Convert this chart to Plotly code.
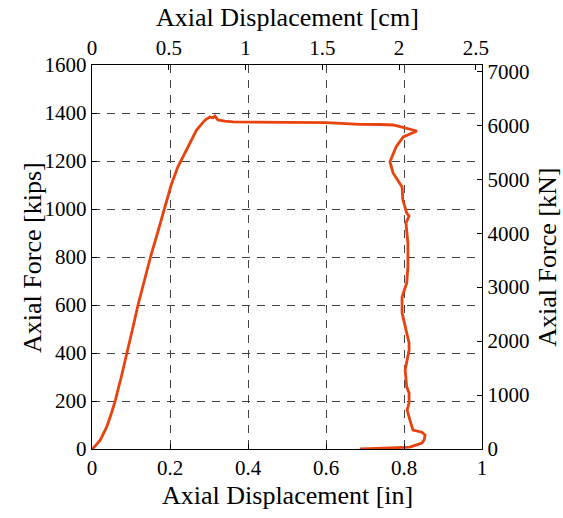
import plotly.graph_objects as go

# Axial displacement [in] and axial force [kips]
disp_in = [0.000, 0.007, 0.021, 0.038, 0.050, 0.060, 0.075, 0.090, 0.104, 0.118, 0.134,
           0.150, 0.168, 0.186, 0.203, 0.220, 0.243, 0.268, 0.290, 0.302, 0.310, 0.315,
           0.323, 0.340, 0.362, 0.400, 0.500, 0.600, 0.687, 0.740, 0.772, 0.795, 0.812,
           0.833, 0.798, 0.780, 0.769, 0.764, 0.772, 0.795, 0.797, 0.807, 0.813, 0.805,
           0.810, 0.810, 0.807, 0.795, 0.795, 0.807, 0.813, 0.813, 0.803, 0.807, 0.813,
           0.813, 0.808, 0.815, 0.823, 0.846, 0.854, 0.852, 0.846, 0.815, 0.772, 0.730,
           0.687]
force_kips = [0, 10, 37, 93, 150, 204, 300, 400, 500, 600, 700,
              800, 900, 1000, 1100, 1175, 1246, 1329, 1371, 1383, 1380, 1387,
              1371, 1366, 1363, 1362, 1361, 1360, 1353, 1352, 1350, 1341, 1335,
              1325, 1300, 1260, 1217, 1196, 1150, 1092, 1038, 983, 971, 942,
              858, 758, 692, 633, 567, 483, 442, 412, 329, 258, 233,
              192, 162, 121, 79, 70, 58, 40, 25, 8, 4, 2,
              0]

IN_TO_CM = 2.54
KIP_TO_KN = 4.448222

x_range_in = [0, 1]
y_range_kips = [0, 1600]
x_ticks_in = [0, 0.2, 0.4, 0.6, 0.8, 1]
y_ticks_kips = [0, 200, 400, 600, 800, 1000, 1200, 1400, 1600]
x_ticks_cm = [0, 0.5, 1, 1.5, 2, 2.5]
y_ticks_kn = [0, 1000, 2000, 3000, 4000, 5000, 6000, 7000]

FONT = "Liberation Serif"
LINE = "#E8420E"

fig = go.Figure()
fig.add_trace(go.Scatter(x=disp_in, y=force_kips, mode="lines",
                         line=dict(color=LINE, width=2.8),
                         showlegend=False, hoverinfo="skip"))
fig.add_trace(go.Scatter(x=[v * IN_TO_CM for v in disp_in],
                         y=[v * KIP_TO_KN for v in force_kips],
                         xaxis="x2", yaxis="y2", mode="lines",
                         line=dict(color="rgba(0,0,0,0)", width=0),
                         showlegend=False, hoverinfo="skip"))

tickfont = dict(family=FONT, size=21, color="black")
titlefont = dict(family=FONT, size=26, color="black")

common = dict(showline=True, linecolor="black", linewidth=1.2, ticks="inside",
              ticklen=5, tickcolor="black", tickfont=tickfont, zeroline=False,
              automargin=False)
grid = dict(showgrid=True, gridcolor="#444", griddash="8px,7px", gridwidth=1)

fig.update_layout(
    width=563, height=518,
    margin=dict(l=92, r=81, t=65, b=69),
    paper_bgcolor="white", plot_bgcolor="white",
    font=dict(family=FONT, color="black"),
    hovermode=False,
    xaxis=dict(range=x_range_in, tickvals=x_ticks_in,
               ticktext=[f"{v:g}" for v in x_ticks_in], **grid, **common),
    yaxis=dict(range=y_range_kips, tickvals=y_ticks_kips, **grid, **common),
    xaxis2=dict(range=[x_range_in[0] * IN_TO_CM, x_range_in[1] * IN_TO_CM],
                tickvals=x_ticks_cm, ticktext=[f"{v:g}" for v in x_ticks_cm],
                overlaying="x", side="top", anchor="y", showgrid=False,
                **common),
    yaxis2=dict(range=[y_range_kips[0] * KIP_TO_KN, y_range_kips[1] * KIP_TO_KN],
                tickvals=y_ticks_kn, overlaying="y", side="right", anchor="x",
                showgrid=False, **common),
    annotations=[
        dict(text="Axial Displacement [in]", xref="paper", yref="paper",
             x=0.5, y=-0.12, xanchor="center", yanchor="middle",
             showarrow=False, font=titlefont),
        dict(text="Axial Displacement [cm]", xref="paper", yref="paper",
             x=0.5, y=1.125, xanchor="center", yanchor="middle",
             showarrow=False, font=titlefont),
        dict(text="Axial Force [kips]", xref="paper", yref="paper",
             x=-0.154, y=0.5, xanchor="center", yanchor="middle", textangle=-90,
             showarrow=False, font=titlefont),
        dict(text="Axial Force [kN]", xref="paper", yref="paper",
             x=1.166, y=0.5, xanchor="center", yanchor="middle", textangle=-90,
             showarrow=False, font=titlefont),
    ],
)

fig.write_html(
    "out.html",
    config={"displayModeBar": False, "staticPlot": True},
    post_script="document.body.style.margin='0';document.body.style.overflow='hidden';",
)
